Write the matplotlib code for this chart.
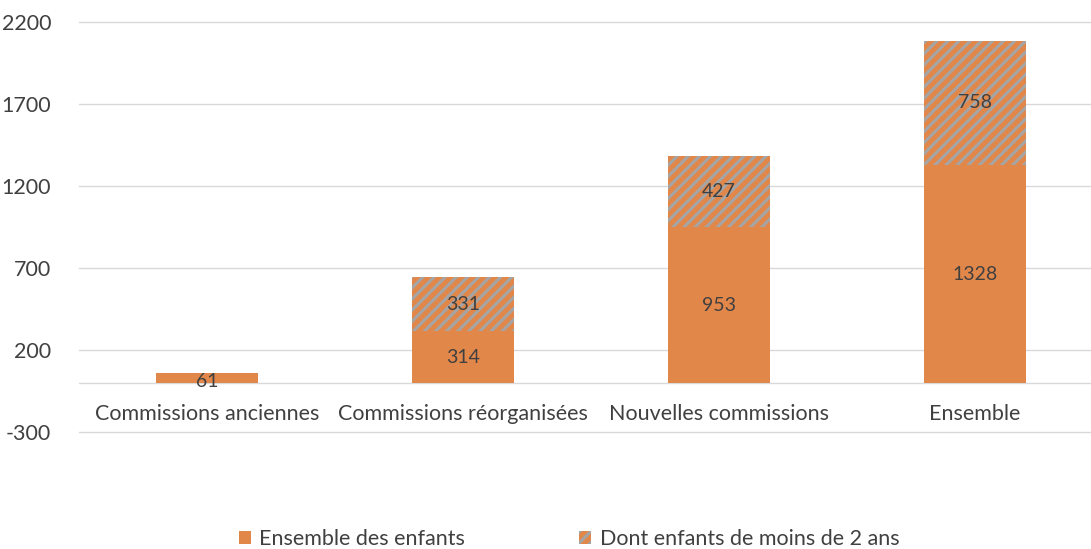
import numpy as np
import matplotlib.pyplot as plt
import matplotlib.patches as mpatches

plt.rcParams['font.family'] = ['Lato', 'DejaVu Sans']
plt.rcParams['hatch.linewidth'] = 2.2
plt.rcParams['hatch.color'] = '#A5A5A5'

# data
categories = ['Commissions anciennes', 'Commissions réorganisées',
              'Nouvelles commissions', 'Ensemble']
ensemble_enfants = [61, 314, 953, 1328]
moins_2_ans = [0, 331, 427, 758]
legend_labels = ['Ensemble des enfants', 'Dont enfants de moins de 2 ans']
yticks = [-300, 200, 700, 1200, 1700, 2200]

orange = '#E2874A'
txt = '#404040'

fig = plt.figure(figsize=(10.91, 5.49), dpi=100)
ax = fig.add_axes([79 / 1091, 1 - 432 / 549, 1012 / 1091, 410 / 549])

x = np.arange(len(categories))
w = 0.4
ax.bar(x, ensemble_enfants, w, color=orange, zorder=2)
top = [v if v > 0 else np.nan for v in moins_2_ans]
ax.bar(x, top, w, bottom=ensemble_enfants, color=orange, hatch='///',
       edgecolor='#A5A5A5', linewidth=0, zorder=2)

# data labels
for i in range(len(categories)):
    yy = ensemble_enfants[i] / 2 - 5 if ensemble_enfants[i] > 100 else ensemble_enfants[i] / 2 - 25
    ax.text(x[i], yy, str(ensemble_enfants[i]), ha='center', va='center',
            fontsize=14, color=txt, zorder=3)
    if moins_2_ans[i] > 0:
        ax.text(x[i], ensemble_enfants[i] + moins_2_ans[i] / 2, str(moins_2_ans[i]),
                ha='center', va='center', fontsize=14, color=txt, zorder=3)

ax.set_ylim(-300, 2200)
ax.set_xlim(-0.5, 3.5 - 12 / 256)
ax.set_yticks(yticks)
ax.set_yticklabels([str(t) for t in yticks], fontsize=15.5, color=txt)
ax.tick_params(axis='y', length=0, pad=20)
ax.set_xticks([])
ax.grid(axis='y', color='#D9D9D9', linewidth=1, zorder=0)
for gl in ax.get_ygridlines():
    gl.set_clip_on(False)
ax.axhline(0, color='#D9D9D9', linewidth=1, zorder=1)
for s in ax.spines.values():
    s.set_visible(False)

# category labels below zero line
for i, c in enumerate(categories):
    ax.text(x[i], -190, c, ha='center', va='center', fontsize=15.5, color=txt)

handles = [mpatches.Patch(facecolor=orange, linewidth=0),
           mpatches.Patch(facecolor=orange, hatch='///', edgecolor='#A5A5A5', linewidth=0)]
fig.legend(handles, legend_labels, loc='center', bbox_to_anchor=(569 / 1091, 1 - 539 / 549),
           ncol=2, frameon=False, fontsize=15.5, labelcolor=txt, handlelength=0.55,
           handleheight=0.55, handletextpad=0.4, columnspacing=5.3)

fig.savefig('out.png', dpi=100)
